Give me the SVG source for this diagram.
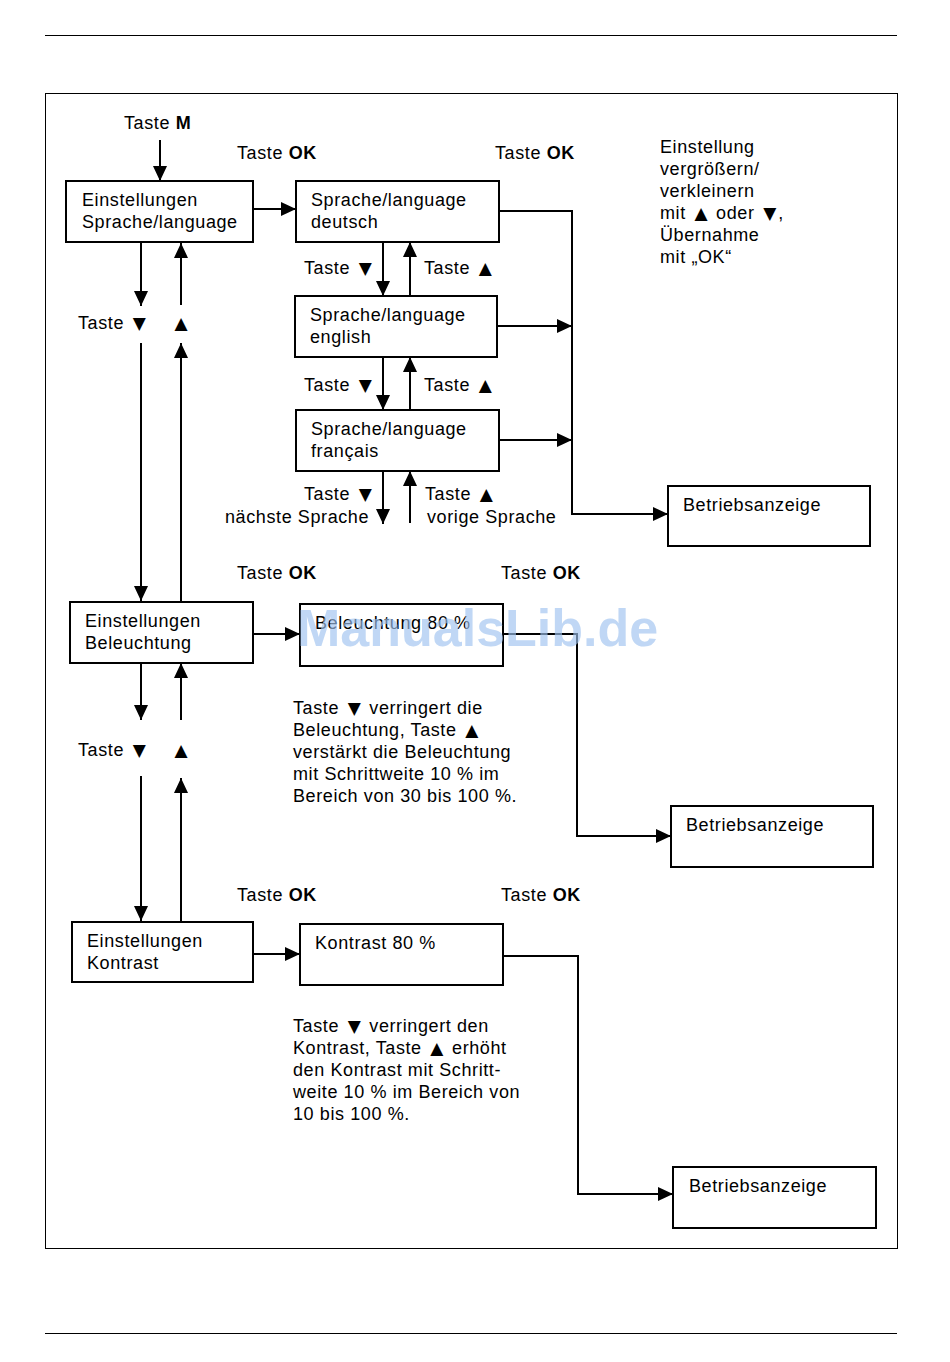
<svg xmlns="http://www.w3.org/2000/svg" width="950" height="1362" viewBox="0 0 950 1362">
<style>
text{font-family:"Liberation Sans","DejaVu Sans",Arial,sans-serif;font-size:18px;letter-spacing:0.6px;fill:#000}
.b{font-weight:bold}
.t{font-family:"DejaVu Sans",sans-serif;font-size:17px;letter-spacing:0}
.box{fill:#fff;stroke:#000;stroke-width:2}
.c{fill:none;stroke:#000;stroke-width:2}
.page{stroke:#000;stroke-width:1;fill:none}
.wm{font-size:52px;font-weight:bold;fill:#9fc3f0;opacity:0.65;letter-spacing:0}
</style>
<defs>
<marker id="ah" viewBox="0 0 15 14" refX="15" refY="7" markerWidth="15" markerHeight="14" orient="auto" markerUnits="userSpaceOnUse"><path d="M0,0 L15,7 L0,14 z" fill="#000"/></marker>
</defs>
<g id="page">
<line class="page" x1="45" y1="35.5" x2="897" y2="35.5"/>
<line class="page" x1="45" y1="1333.5" x2="897" y2="1333.5"/>
<rect class="page" x="45.5" y="93.5" width="852" height="1155"/>
</g>
<g id="connectors">
<path class="c" d="M160,140 V181" marker-end="url(#ah)"/>
<path class="c" d="M253,209 H296" marker-end="url(#ah)"/>
<path class="c" d="M141,242 V306" marker-end="url(#ah)"/>
<path class="c" d="M181,305 V243" marker-end="url(#ah)"/>
<path class="c" d="M141,343 V601" marker-end="url(#ah)"/>
<path class="c" d="M181,601 V343" marker-end="url(#ah)"/>
<path class="c" d="M383,242 V296" marker-end="url(#ah)"/>
<path class="c" d="M410,296 V242" marker-end="url(#ah)"/>
<path class="c" d="M383,357 V410" marker-end="url(#ah)"/>
<path class="c" d="M410,410 V357" marker-end="url(#ah)"/>
<path class="c" d="M383,471 V524" marker-end="url(#ah)"/>
<path class="c" d="M410,523 V471" marker-end="url(#ah)"/>
<path class="c" d="M499,211 H572 V514 H668" marker-end="url(#ah)"/>
<path class="c" d="M497,326 H572" marker-end="url(#ah)"/>
<path class="c" d="M499,440 H572" marker-end="url(#ah)"/>
<path class="c" d="M253,634 H300" marker-end="url(#ah)"/>
<path class="c" d="M141,663 V720" marker-end="url(#ah)"/>
<path class="c" d="M181,720 V663" marker-end="url(#ah)"/>
<path class="c" d="M141,776 V921" marker-end="url(#ah)"/>
<path class="c" d="M181,921 V778" marker-end="url(#ah)"/>
<path class="c" d="M503,634 H577 V836 H671" marker-end="url(#ah)"/>
<path class="c" d="M253,954 H300" marker-end="url(#ah)"/>
<path class="c" d="M503,956 H578 V1194 H673" marker-end="url(#ah)"/>
</g>
<g id="labels">
<text x="124" y="129">Taste <tspan class="b">M</tspan></text>
<text x="237" y="159">Taste <tspan class="b">OK</tspan></text>
<text x="495" y="159">Taste <tspan class="b">OK</tspan></text>
<text x="78" y="329">Taste <tspan class="t" dx="3">▼</tspan></text>
<text x="181" y="329" text-anchor="middle" class="t">▲</text>
<text x="304" y="274">Taste <tspan class="t" dx="3">▼</tspan></text>
<text x="424" y="274">Taste <tspan class="t" dx="3">▲</tspan></text>
<text x="304" y="391">Taste <tspan class="t" dx="3">▼</tspan></text>
<text x="424" y="391">Taste <tspan class="t" dx="3">▲</tspan></text>
<text x="304" y="500">Taste <tspan class="t" dx="3">▼</tspan></text>
<text x="225" y="523">nächste Sprache</text>
<text x="425" y="500">Taste <tspan class="t" dx="3">▲</tspan></text>
<text x="427" y="523">vorige Sprache</text>
<text x="237" y="579">Taste <tspan class="b">OK</tspan></text>
<text x="501" y="579">Taste <tspan class="b">OK</tspan></text>
<text x="78" y="756">Taste <tspan class="t" dx="3">▼</tspan></text>
<text x="181" y="756" text-anchor="middle" class="t">▲</text>
<text x="237" y="901">Taste <tspan class="b">OK</tspan></text>
<text x="501" y="901">Taste <tspan class="b">OK</tspan></text>
</g>
<g id="note-einstellung">
<text x="660" y="153">Einstellung</text>
<text x="660" y="175">vergrößern/</text>
<text x="660" y="197">verkleinern</text>
<text x="660" y="219">mit <tspan class="t" dx="3">▲</tspan><tspan dx="3"> oder </tspan><tspan class="t" dx="3">▼</tspan><tspan dx="2">,</tspan></text>
<text x="660" y="241">Übernahme</text>
<text x="660" y="263">mit „OK“</text>
</g>
<g id="note-beleuchtung">
<text x="293" y="714">Taste <tspan class="t" dx="3">▼</tspan><tspan dx="3"> verringert die</tspan></text>
<text x="293" y="736">Beleuchtung, Taste <tspan class="t" dx="3">▲</tspan></text>
<text x="293" y="758">verstärkt die Beleuchtung</text>
<text x="293" y="780">mit Schrittweite 10 % im</text>
<text x="293" y="802">Bereich von 30 bis 100 %.</text>
</g>
<g id="note-kontrast">
<text x="293" y="1032">Taste <tspan class="t" dx="3">▼</tspan><tspan dx="3"> verringert den</tspan></text>
<text x="293" y="1054">Kontrast, Taste <tspan class="t" dx="3">▲</tspan><tspan dx="3"> erhöht</tspan></text>
<text x="293" y="1076">den Kontrast mit Schritt-</text>
<text x="293" y="1098">weite 10 % im Bereich von</text>
<text x="293" y="1120">10 bis 100 %.</text>
</g>
<g id="n-einst-sprache"><rect class="box" x="66" y="181" width="187" height="61"/><text x="82" y="206">Einstellungen</text><text x="82" y="228">Sprache/language</text></g>
<g id="n-deutsch"><rect class="box" x="296" y="181" width="203" height="61"/><text x="311" y="206">Sprache/language</text><text x="311" y="228">deutsch</text></g>
<g id="n-english"><rect class="box" x="295" y="296" width="202" height="61"/><text x="310" y="321">Sprache/language</text><text x="310" y="343">english</text></g>
<g id="n-francais"><rect class="box" x="296" y="410" width="203" height="61"/><text x="311" y="435">Sprache/language</text><text x="311" y="457">français</text></g>
<g id="n-betrieb1"><rect class="box" x="668" y="486" width="202" height="60"/><text x="683" y="511">Betriebsanzeige</text></g>
<g id="n-einst-bel"><rect class="box" x="70" y="602" width="183" height="61"/><text x="85" y="627">Einstellungen</text><text x="85" y="649">Beleuchtung</text></g>
<g id="n-bel80"><rect class="box" x="300" y="604" width="203" height="62"/><text x="315" y="629">Beleuchtung 80 %</text></g>
<g id="n-betrieb2"><rect class="box" x="671" y="806" width="202" height="61"/><text x="686" y="831">Betriebsanzeige</text></g>
<g id="n-einst-kon"><rect class="box" x="72" y="922" width="181" height="60"/><text x="87" y="947">Einstellungen</text><text x="87" y="969">Kontrast</text></g>
<g id="n-kon80"><rect class="box" x="300" y="924" width="203" height="61"/><text x="315" y="949">Kontrast 80 %</text></g>
<g id="n-betrieb3"><rect class="box" x="673" y="1167" width="203" height="61"/><text x="689" y="1192">Betriebsanzeige</text></g>
<g id="watermark"><text class="wm" x="297" y="646">ManualsLib.de</text></g>
</svg>
